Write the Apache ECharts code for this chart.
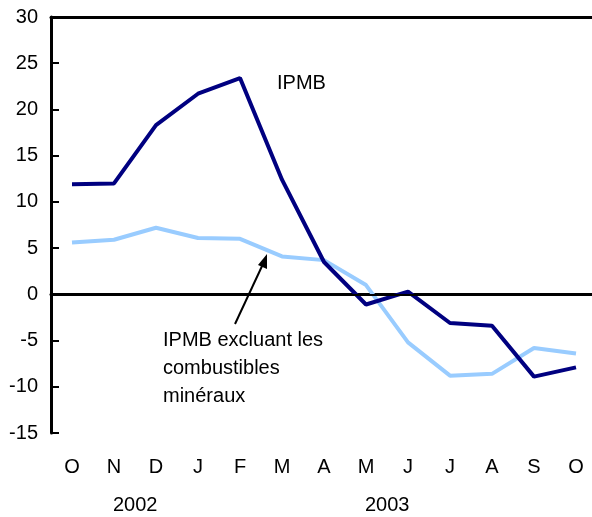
<!DOCTYPE html>
<html><head><meta charset="utf-8">
<script src="https://cdn.jsdelivr.net/npm/echarts@6/dist/echarts.min.js"></script>
<style>html,body{margin:0;padding:0;background:#fff;overflow:hidden}#c{width:597px;height:517px}</style>
</head><body><div id="c"></div>
<script>
const months = ['O','N','D','J','F','M','A','M','J','J','A','S','O'];
const ipmb = [11.9, 12.0, 18.3, 21.7, 23.4, 12.4, 3.5, -1.1, 0.3, -3.1, -3.4, -8.9, -7.9];
const ipmbExcl = [5.6, 5.9, 7.2, 6.1, 6.0, 4.1, 3.7, 1.0, -5.2, -8.8, -8.6, -5.8, -6.4];
const yearLabels = ['2002', '2003'];
const labelIpmb = 'IPMB';
const labelExcl = 'IPMB excluant les\ncombustibles\nminéraux';

const chart = echarts.init(document.getElementById('c'));
const font = 'Liberation Sans, Arial, Helvetica, sans-serif';
chart.setOption({
  animation: false,
  grid: {left: 51, right: 0, top: 17, height: 416},
  xAxis: [{
    type: 'category', data: months, boundaryGap: true,
    axisLine: {lineStyle: {color: '#000', width: 3}},
    axisTick: {inside: true, length: 8, lineStyle: {color: '#000', width: 2}},
    axisLabel: {color: '#000', fontSize: 20, fontFamily: font, margin: 24},
    splitLine: {show: false}
  }, {
    type: 'category', data: months, position: 'top', boundaryGap: true,
    axisLine: {lineStyle: {color: '#000', width: 3}},
    axisTick: {show: false}, axisLabel: {show: false}
  }],
  yAxis: {
    type: 'value', min: -15, max: 30, interval: 5,
    axisLine: {show: true, lineStyle: {color: '#000', width: 3}},
    axisTick: {show: true, inside: true, length: 8, lineStyle: {color: '#000', width: 2}},
    axisLabel: {color: '#000', fontSize: 20, fontFamily: font, margin: 13},
    splitLine: {show: false}
  },
  series: [{
    type: 'line', data: ipmbExcl, symbol: 'none',
    lineStyle: {color: '#99ccff', width: 4}, z: 3,
    markLine: {silent: true, symbol: 'none', label: {show: false},
      lineStyle: {color: '#000', width: 2, type: 'solid'}, data: [{yAxis: 0}]}
  }, {
    type: 'line', data: ipmb, symbol: 'none',
    lineStyle: {color: '#000080', width: 4}, z: 4
  }],
  graphic: [
    {type: 'text', left: 277, top: 73, style: {text: labelIpmb, fontSize: 20, fontFamily: font, fill: '#000'}},
    {type: 'text', left: 163, top: 326, style: {text: labelExcl, fontSize: 20, lineHeight: 28, fontFamily: font, fill: '#000'}},
    {type: 'line', shape: {x1: 235, y1: 324, x2: 263, y2: 264}, style: {stroke: '#000', lineWidth: 2}},
    {type: 'polygon', shape: {points: [[267, 254], [258, 265], [267, 269]]}, style: {fill: '#000'}},
    {type: 'text', left: 113, top: 495, style: {text: yearLabels[0], fontSize: 20, fontFamily: font, fill: '#000'}},
    {type: 'text', left: 365, top: 495, style: {text: yearLabels[1], fontSize: 20, fontFamily: font, fill: '#000'}}
  ]
});
</script></body></html>
